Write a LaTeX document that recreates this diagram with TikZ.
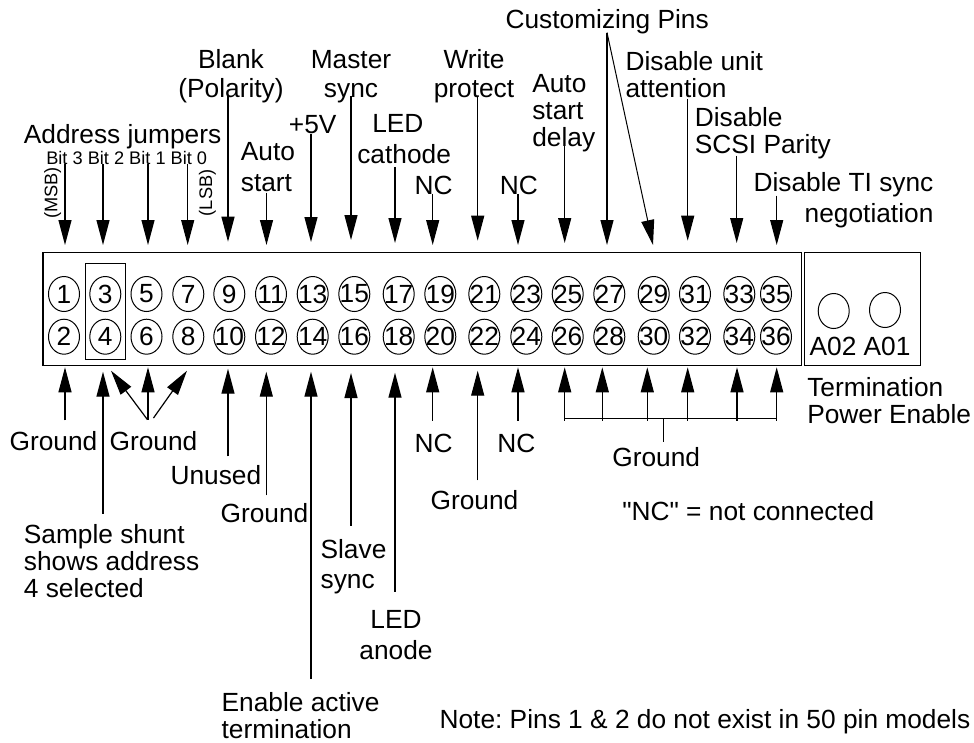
\documentclass[tikz,border=0pt]{standalone}
\usepackage{fontspec}
\usepackage{tikz}
\usetikzlibrary{arrows.meta,shapes.geometric}
\setmainfont{Liberation Sans}[Ligatures=TeXOff]
\frenchspacing

\begin{document}
\begin{tikzpicture}[x=1pt,y=-1pt,line width=1.2pt,every node/.style={font=\fontsize{26.3}{27}\selectfont}]
    \tikzstyle{lbl}=[inner sep=0pt,anchor=base west,align=left]
    \tikzstyle{lblmid}=[inner sep=0pt,anchor=base,align=center]
    \tikzstyle{small}=[inner sep=0pt,anchor=base west,font=\fontsize{18.2}{18}\selectfont]
    \tikzstyle{pin}=[ellipse,draw,line width=1pt,inner sep=0pt,minimum width=31pt,minimum height=35pt]
    \tikzstyle{pinarrow}=[-{Triangle[length=25pt,width=13pt]}]
    \useasboundingbox (0,0) rectangle (974,742);

    \node[draw,inner sep=0pt,minimum width=758.5pt,minimum height=112.5pt,anchor=north west] (header) at (42.3,252) {};
    \node[draw,inner sep=0pt,minimum width=116.2pt,minimum height=112.5pt,anchor=north west] (termblock) at (803.8,252) {};
    \node[draw,line width=1pt,inner sep=0pt,minimum width=40pt,minimum height=96pt,anchor=north west] (shunt) at (85.3,263.3) {};
    \foreach \a/\b/\x in {1/2/64,3/4/105.3,5/6/146.5,7/8/188.3,9/10/229.3,11/12/271,13/14/312.7,15/16/354.3,17/18/398.7,19/20/440.3,21/22/484.3,23/24/526.3,25/26/567.7,27/28/609.3,29/30/653.7,31/32/695,33/34/739.3,35/36/776} {
        \node[pin] (pin\a) at (\x,294) {\makebox[0pt]{\a}};
        \node[pin] (pin\b) at (\x,336.7) {\makebox[0pt]{\b}};
    }
    \node[pin] (pinatwo) at (833.7,311) {};
    \node[pin] (pinaone) at (885,310) {};
    \node[lbl] (atwolabel) at (809,355) {A02};
    \node[lbl] (aonelabel) at (863,355) {A01};

    \node[lbl] (addrjumpers) at (23.3,143) {Address jumpers};
    \node[small] (bitlabels) at (45.7,164) {Bit 3 Bit 2 Bit 1 Bit 0};
    \node[small,rotate=90] (msblabel) at (57.3,219.3) {(MSB)};
    \node[small,rotate=90] (lsblabel) at (212,216.7) {(LSB)};
    \node[lblmid] (blank) at (231,97) {Blank\\[1.7pt](Polarity)};
    \node[lbl] (autostart) at (240.3,191.7) {Auto\\[4.5pt]start};
    \node[lbl] (plusfive) at (288.3,133.3) {+5V};
    \node[lblmid] (master) at (351,97) {Master\\[1.7pt]sync};
    \node[lbl] (ledcathode) at (356.7,163.3) {\hspace*{15pt}LED\\[3.5pt]cathode};
    \node[lbl] (ncnineteen) at (414,194.3) {NC};
    \node[lblmid] (writeprot) at (474,97) {Write\\[1.7pt]protect};
    \node[lbl] (nctwentythree) at (499.3,194.3) {NC};
    \node[lbl] (autodelay) at (531.7,146) {Auto\\start\\delay};
    \node[lbl] (custompins) at (505,28.3) {Customizing Pins};
    \node[lbl] (unitatt) at (625,97.3) {Disable unit\\attention};
    \node[lbl] (scsiparity) at (694.3,153.3) {Disable\\SCSI Parity};
    \node[inner sep=0pt,anchor=base east,align=right] (tisync) at (934,222.3) {Disable TI sync\\[4pt]negotiation};

    \node[lbl] (groundone) at (9,450.7) {Ground};
    \node[lbl] (groundtwo) at (109,450.7) {Ground};
    \node[lbl] (unused) at (170,484.3) {Unused};
    \node[lbl] (groundtwelve) at (220,522.3) {Ground};
    \node[lbl] (sampleshunt) at (23.3,597.3) {Sample shunt\\shows address\\4 selected};
    \node[lbl] (enableterm) at (221,738.3) {Enable active\\termination};
    \node[lbl] (slavesync) at (320,588.3) {Slave\\[3pt]sync};
    \node[lblmid] (ledanode) at (396,659.3) {LED\\[4pt]anode};
    \node[lbl] (nctwenty) at (414,452.3) {NC};
    \node[lbl] (groundtt) at (430,509.3) {Ground};
    \node[lbl] (nctwentyfour) at (496.7,452.3) {NC};
    \node[lbl] (groundall) at (611.7,466) {Ground};
    \node[lbl] (termpower) at (806.7,423.3) {Termination\\Power Enable};
    \node[lbl] (ncnote) at (621.7,520.7) {"NC" = not connected};
    \node[lbl] (pinsnote) at (439,728.3) {Note: Pins 1 \& 2 do not exist in 50 pin models};

    \foreach \nm/\x/\y in {tthree/65/245,ttwo/103/245,tone/148/245,tzero/187.7/245,tblank/228/241.7,tauto/266.5/245,tfive/311/242,tmaster/351/240,tled/395/243,tnca/432.7/245,twrite/477.7/240.7,tncb/518/245,tdelay/564.7/243,tcusta/607/245,tcustb/653/245,tunit/687.7/240.7,tscsi/736.7/243,ttisync/776.7/245,
        bgnda/65/367.3,bshunt/103/371.7,bgndb/111/370.7,bgndc/148/367.3,bgndd/187/370.7,bunused/228/368.7,bgnde/266.3/371.7,benable/311/371.7,bslave/351/373,bled/395/372.7,bncc/432.7/367.3,bgndf/477.7/370.7,bncd/518/367.3,
        busa/564.7/367.3,busb/602.3/367.3,busc/647.3/367.3,busd/687.7/367.3,buse/737/367.3,busf/776.7/367.3} {
        \coordinate (\nm) at (\x,\y);
    }
    \foreach \nm/\x in {a/564.7,b/602.3,c/647.3,d/687.7,e/737,f/776.7} {
        \coordinate (foot\nm) at (\x,420.7);
        \draw[pinarrow] (foot\nm) -- (bus\nm);
    }
    \coordinate (barleft) at (564.7,418.7);
    \coordinate (barright) at (776.7,418.7);
    \coordinate (barstem) at (663.3,418.7);
    \draw (barleft) -- (barright);
    \draw ([yshift=4.7pt]groundall.north -| barstem) -- (barstem);

    \draw[pinarrow] ([yshift=1pt]bitlabels.south -| tthree) -- (tthree);
    \draw[pinarrow] ([yshift=1pt]bitlabels.south -| ttwo) -- (ttwo);
    \draw[pinarrow] ([yshift=1pt]bitlabels.south -| tone) -- (tone);
    \draw[pinarrow] ([yshift=1pt]bitlabels.south -| tzero) -- (tzero);
    \draw[pinarrow] ([yshift=7.5pt]blank.south -| tblank) -- (tblank);
    \draw[pinarrow] (autostart.south -| tauto) -- (tauto);
    \draw[pinarrow] (plusfive.south -| tfive) -- (tfive);
    \draw[pinarrow] ([yshift=7.5pt]master.south -| tmaster) -- (tmaster);
    \draw[pinarrow] ([yshift=-2.7pt]ledcathode.south -| tled) -- (tled);
    \draw[pinarrow] ([yshift=1.3pt]ncnineteen.south -| tnca) -- (tnca);
    \draw[pinarrow] ([yshift=7.5pt]writeprot.south -| twrite) -- (twrite);
    \draw[pinarrow] ([yshift=1.3pt]nctwentythree.south -| tncb) -- (tncb);
    \draw[pinarrow] ([yshift=8.5pt]autodelay.south -| tdelay) -- (tdelay);
    \draw[pinarrow] ([yshift=1.8pt]custompins.south -| tcusta) -- (tcusta);
    \draw[pinarrow,line width=1pt] ([yshift=1.8pt]custompins.south -| tcusta) -- (tcustb);
    \draw[pinarrow] ([yshift=-0.7pt]unitatt.south -| tunit) -- (tunit);
    \draw[pinarrow] ([yshift=3.8pt]scsiparity.south -| tscsi) -- (tscsi);
    \draw[pinarrow] ([yshift=32.8pt]tisync.south -| ttisync) -- (ttisync);

    \draw[pinarrow] ([yshift=10.7pt]groundone.north -| bgnda) -- (bgnda);
    \draw[pinarrow] ([yshift=9.8pt]sampleshunt.north -| bshunt) -- (bshunt);
    \draw[pinarrow] ([xshift=-6pt,yshift=11.4pt]groundtwo.north) -- (bgndb);
    \draw[pinarrow] ([yshift=11.4pt]groundtwo.north -| bgndc) -- (bgndc);
    \draw[pinarrow] ([yshift=13pt]groundtwo.north) -- (bgndd);
    \draw[pinarrow] ([yshift=8.3pt]unused.north -| bunused) -- (bunused);
    \draw[pinarrow] ([yshift=7.4pt]groundtwelve.north -| bgnde) -- (bgnde);
    \draw[pinarrow] ([yshift=12.5pt]enableterm.north -| benable) -- (benable);
    \draw[pinarrow] ([yshift=13pt]slavesync.north -| bslave) -- (bslave);
    \draw[pinarrow] ([yshift=17.8pt]ledanode.north -| bled) -- (bled);
    \draw[pinarrow] ([yshift=12.8pt]nctwenty.north -| bncc) -- (bncc);
    \draw[pinarrow] ([yshift=9.3pt]groundtt.north -| bgndf) -- (bgndf);
    \draw[pinarrow] ([yshift=12.8pt]nctwentyfour.north -| bncd) -- (bncd);
\end{tikzpicture}
\end{document}
